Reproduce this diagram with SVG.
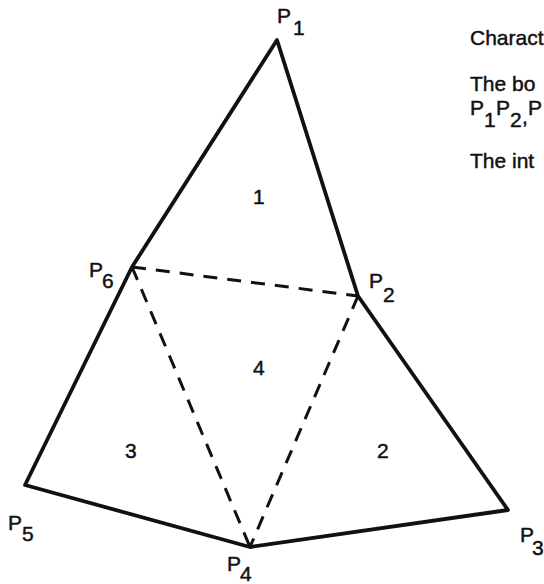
<svg xmlns="http://www.w3.org/2000/svg" width="544" height="584" viewBox="0 0 544 584">
<style>
.t{font-family:"Liberation Sans",Arial,Helvetica,sans-serif;font-size:21px;fill:#111;stroke:#111;stroke-width:0.45}
.solid{stroke:#111;stroke-width:3.8;fill:none;stroke-linejoin:round;stroke-linecap:round}
.dash{stroke:#111;stroke-width:3;fill:none;stroke-dasharray:14 10}
</style>
<rect width="544" height="584" fill="#fff"/>
<g id="connectors">
<polygon class="solid" points="277,40 358,296 508,510 250,547 25,485 132,267"/>
<line class="dash" x1="132" y1="267" x2="358" y2="296"/>
<line class="dash" x1="358" y1="296" x2="250" y2="547"/>
<line class="dash" x1="132" y1="267" x2="250" y2="547"/>
</g>
<g id="P1"><text class="t" x="277" y="23">P</text><text class="t" x="293" y="35">1</text></g>
<g id="P2"><text class="t" x="369" y="288">P</text><text class="t" x="383" y="302">2</text></g>
<g id="P3"><text class="t" x="520" y="542">P</text><text class="t" x="532" y="555">3</text></g>
<g id="P4"><text class="t" x="227" y="571">P</text><text class="t" x="240" y="581">4</text></g>
<g id="P5"><text class="t" x="8" y="530">P</text><text class="t" x="22" y="541">5</text></g>
<g id="P6"><text class="t" x="89" y="277">P</text><text class="t" x="102" y="288">6</text></g>
<g id="region1"><text class="t" x="253" y="204">1</text></g>
<g id="region2"><text class="t" x="377" y="458">2</text></g>
<g id="region3"><text class="t" x="125" y="458">3</text></g>
<g id="region4"><text class="t" x="253" y="375">4</text></g>
<g id="notes">
<text class="t" x="470" y="45">Charact</text>
<text class="t" x="470" y="91">The bo</text>
<text class="t" x="470" y="115">P</text><text class="t" x="484" y="127">1</text><text class="t" x="496" y="115">P</text><text class="t" x="510" y="127">2</text><text class="t" x="522" y="124">,</text><text class="t" x="528" y="115">P</text>
<text class="t" x="470" y="168">The int</text>
</g>
</svg>
